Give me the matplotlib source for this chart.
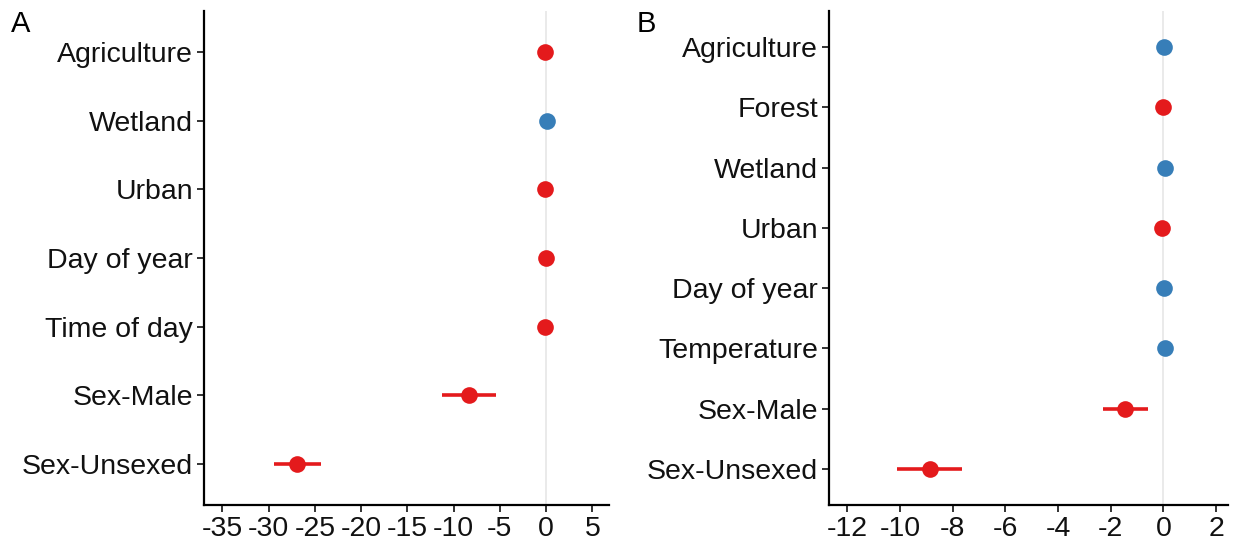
import matplotlib
matplotlib.use("Agg")
import matplotlib.pyplot as plt

plt.rcParams['font.family'] = ['Liberation Sans', 'DejaVu Sans']

RED = '#E41A1C'
BLUE = '#377EB8'

# Panel A: coefficient estimates with confidence limits
labels_a = ['Agriculture', 'Wetland', 'Urban', 'Day of year', 'Time of day',
            'Sex-Male', 'Sex-Unsexed']
est_a = [-0.1, 0.05, -0.1, -0.05, -0.1, -8.3, -26.9]
low_a = [-0.1, 0.05, -0.1, -0.05, -0.1, -11.3, -29.4]
high_a = [-0.1, 0.05, -0.1, -0.05, -0.1, -5.4, -24.3]
sign_a = ['neg', 'pos', 'neg', 'neg', 'neg', 'neg', 'neg']

# Panel B
labels_b = ['Agriculture', 'Forest', 'Wetland', 'Urban', 'Day of year',
            'Temperature', 'Sex-Male', 'Sex-Unsexed']
est_b = [0.02, -0.02, 0.04, -0.05, 0.02, 0.05, -1.45, -8.85]
low_b = [0.02, -0.02, 0.04, -0.05, 0.02, 0.05, -2.3, -10.1]
high_b = [0.02, -0.02, 0.04, -0.05, 0.02, 0.05, -0.6, -7.65]
sign_b = ['pos', 'neg', 'pos', 'neg', 'pos', 'pos', 'neg', 'neg']

W, H = 1238, 548
fig = plt.figure(figsize=(W / 100, H / 100), dpi=100)


def panel(rect, labels, est, low, high, sign, xlim, xticks, tag, tag_x):
    x0, y0, x1, y1 = rect
    ax = fig.add_axes([x0 / W, 1 - y1 / H, (x1 - x0) / W, (y1 - y0) / H])
    n = len(labels)
    ys = list(range(n, 0, -1))
    ax.axvline(0, color='#e6e6e6', lw=1.2, zorder=0)
    for y, e, lo, hi, s in zip(ys, est, low, high, sign):
        c = RED if s == 'neg' else BLUE
        ax.plot([lo, hi], [y, y], color=c, lw=2.6, solid_capstyle='butt', zorder=2)
        ax.plot(e, y, 'o', color=c, ms=12, mec='none', zorder=3)
    ax.set_xlim(*xlim)
    ax.set_ylim(0.4, n + 0.6)
    ax.set_yticks(ys)
    ax.set_yticklabels(labels)
    ax.set_xticks(xticks)
    ax.set_xticklabels([str(t) for t in xticks])
    for side in ['top', 'right']:
        ax.spines[side].set_visible(False)
    for side in ['left', 'bottom']:
        ax.spines[side].set_linewidth(1.6)
    ax.tick_params(axis='both', labelsize=20.5, width=1.4, length=5,
                   color='#333333', labelcolor='#111111', pad=3)
    fig.text(tag_x / W, 1 - 24 / H, tag, fontsize=21, va='center', ha='left')
    return ax


panel((204, 11, 609, 505), labels_a, est_a, low_a, high_a, sign_a,
      (-37.0, 6.8), list(range(-35, 6, 5)), 'A', 11)
panel((829, 11, 1228, 505), labels_b, est_b, low_b, high_b, sign_b,
      (-12.7, 2.45), list(range(-12, 3, 2)), 'B', 637)

fig.savefig('out.png', dpi=100)
